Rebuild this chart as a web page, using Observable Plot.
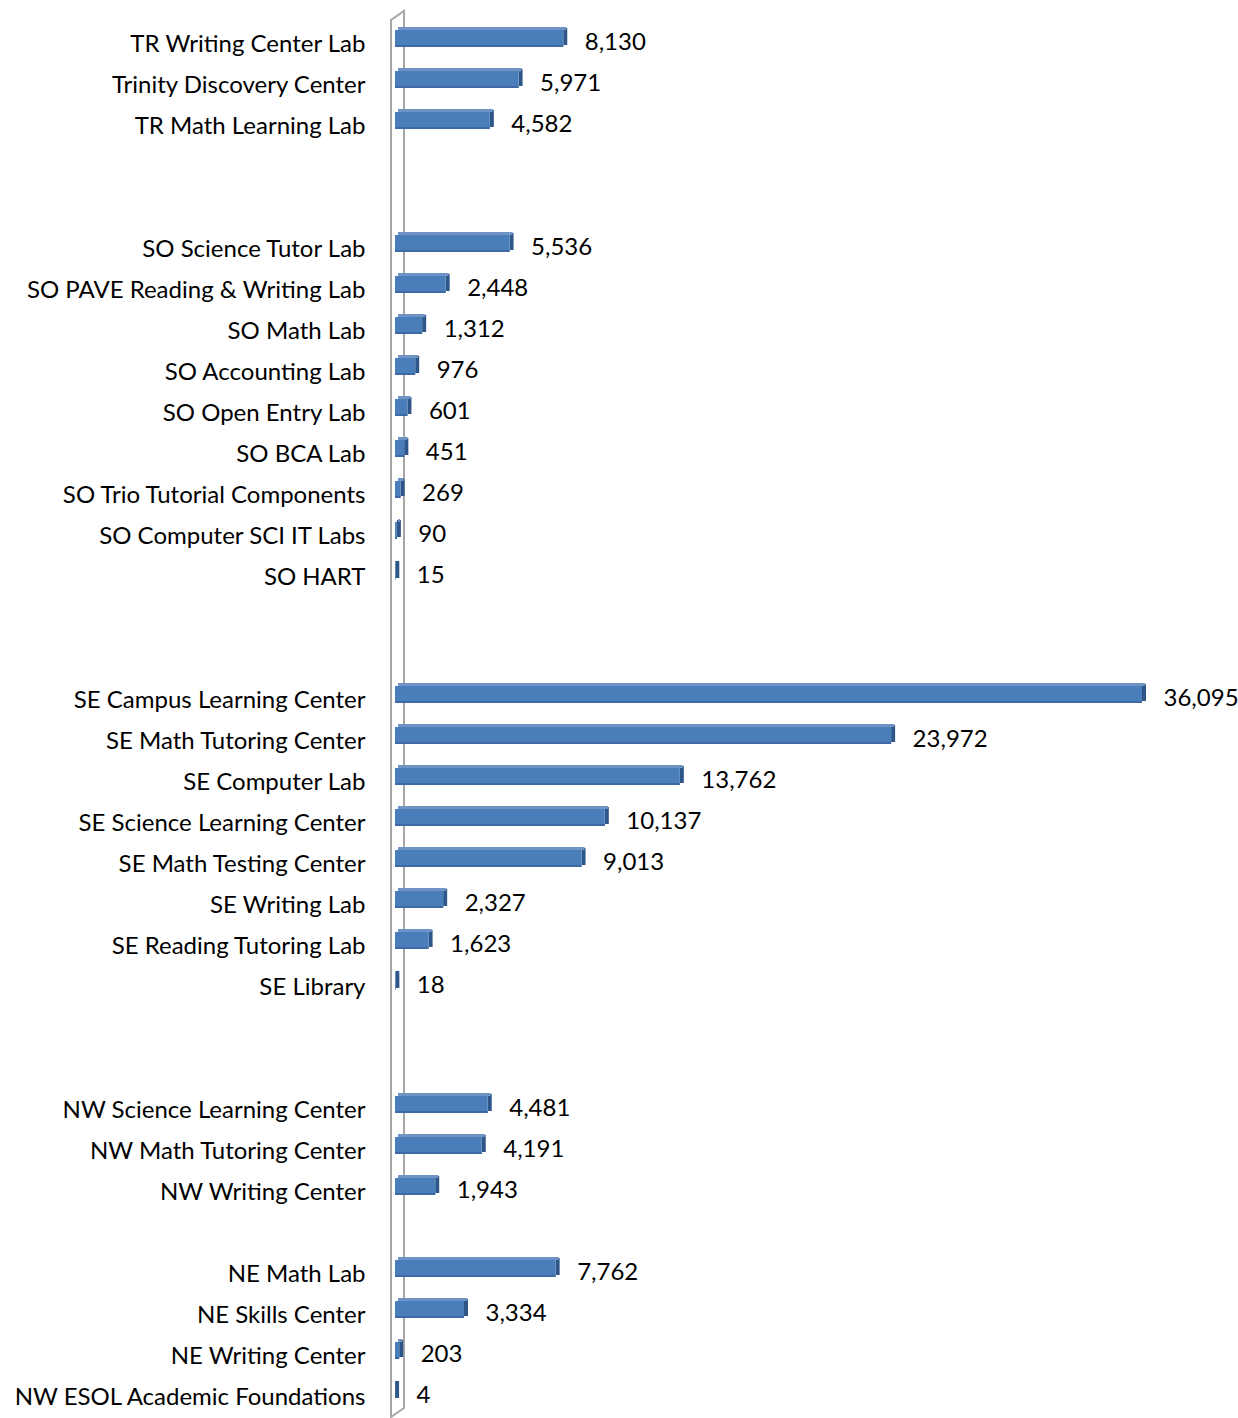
<!DOCTYPE html>
<html><head><meta charset="utf-8">
<script src="https://cdn.jsdelivr.net/npm/d3@7"></script>
<script src="https://cdn.jsdelivr.net/npm/@observablehq/plot@0.6"></script>
<style>html,body{margin:0;padding:0;background:#fff} svg{display:block}</style>
</head><body><div id="chart"></div>
<script>
// Slots from top to bottom; null = empty gap slot between groups
const categories = [
  "TR Writing Center Lab", "Trinity Discovery Center", "TR Math Learning Lab",
  null, null,
  "SO Science Tutor Lab", "SO PAVE Reading & Writing Lab", "SO Math Lab", "SO Accounting Lab",
  "SO Open Entry Lab", "SO BCA Lab", "SO Trio Tutorial Components", "SO Computer SCI IT Labs", "SO HART",
  null, null,
  "SE Campus Learning Center", "SE Math Tutoring Center", "SE Computer Lab", "SE Science Learning Center",
  "SE Math Testing Center", "SE Writing Lab", "SE Reading Tutoring Lab", "SE Library",
  null, null,
  "NW Science Learning Center", "NW Math Tutoring Center", "NW Writing Center",
  null,
  "NE Math Lab", "NE Skills Center", "NE Writing Center", "NW ESOL Academic Foundations"
];
const values = [
  8130, 5971, 4582,
  null, null,
  5536, 2448, 1312, 976, 601, 451, 269, 90, 15,
  null, null,
  36095, 23972, 13762, 10137, 9013, 2327, 1623, 18,
  null, null,
  4481, 4191, 1943,
  null,
  7762, 3334, 203, 4
];

const data = categories.map((name, i) => ({slot: i, name, value: values[i]})).filter(d => d.name);
const slots = d3.range(categories.length);
const FONT = "Lato, 'Open Sans', sans-serif";
const fmt = d3.format(",");

const chart = Plot.plot({
  width: 1238, height: 1418,
  marginLeft: 395, marginRight: 96, marginTop: 22, marginBottom: 0,
  style: {fontFamily: FONT, fontSize: "24px", color: "#000", background: "#fff", overflow: "visible"},
  x: {domain: [0, 36095], axis: null},
  y: {domain: slots, type: "band", padding: 0, axis: null, label: null},
  marks: [
    // right side face of each 3D bar
    Plot.barX(data, {x1: "value", x2: "value", y: "slot", fill: "#2f5688",
      insetLeft: 0, insetRight: -4, insetTop: 12, insetBottom: 12, dy: -7}),
    // top face of each 3D bar
    Plot.barX(data, {x1: 0, x2: "value", y: "slot", fill: "#6f93c4",
      insetTop: 12, insetBottom: 26, dx: 3, dy: -8}),
    // front face
    Plot.barX(data, {x1: 0, x2: "value", y: "slot", fill: "#4a7ebb",
      insetTop: 12, insetBottom: 12, dy: -5}),
    // thin darker bottom edge of the front face
    Plot.barX(data, {x1: 0, x2: "value", y: "slot", fill: "#3d6aa3",
      insetTop: 27, insetBottom: 12, dy: -5}),
    Plot.axisY({tickSize: 0, tickPadding: 30, tickFormat: i => categories[i] ?? "", fill: "#000", label: null}),
    Plot.text(data, {x: "value", y: "slot", text: d => fmt(d.value), dx: 21, dy: -1.5, textAnchor: "start", fill: "#000"})
  ]
});

// 3D wall behind the bars, positioned with the plot's own x scale
const wallX = chart.scale("x").apply(0);
const wallTop = 22, wallBot = 1418;
d3.select(chart).insert("path", "g")
  .attr("d", `M${wallX - 4},${wallBot - 1}L${wallX - 4},${wallTop - 2}L${wallX + 9},${wallTop - 11}L${wallX + 9},${wallBot - 10}Z`)
  .attr("fill", "#fff").attr("stroke", "#a6a6a6").attr("stroke-width", 2);

document.getElementById("chart").appendChild(chart);
</script>
</body></html>
